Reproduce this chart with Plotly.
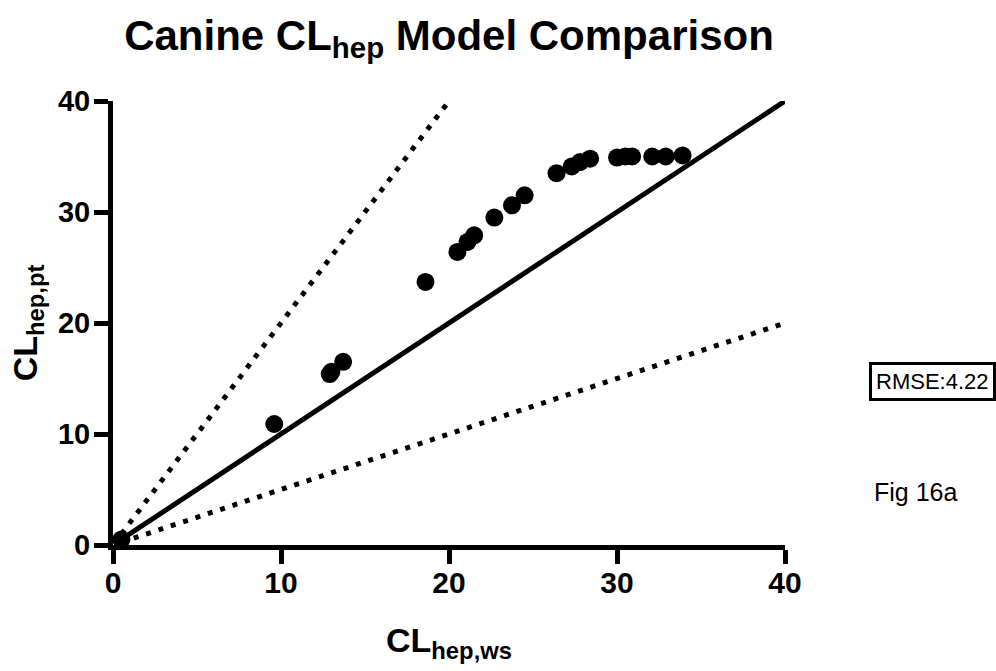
import plotly.graph_objects as go

# Observed points (CL_hep,ws vs CL_hep,pt)
x_ws = [0.5, 9.6, 12.9, 13.0, 13.7, 18.6, 20.5, 21.1, 21.5, 22.7, 23.75, 24.5,
        26.4, 27.3, 27.8, 28.4, 30.0, 30.5, 30.9, 32.1, 32.9, 33.9]
y_pt = [0.5, 10.9, 15.4, 15.6, 16.5, 23.7, 26.4, 27.3, 27.9, 29.5, 30.6, 31.5,
        33.5, 34.1, 34.5, 34.8, 34.9, 35.0, 35.0, 35.0, 35.0, 35.1]

# Reference lines
unity_x = [0.5, 40]
unity_y = [0.5, 40]
twofold_x = [0.5, 20]
twofold_y = [1.0, 40]
half_x = [0.5, 40]
half_y = [0.25, 20]

x_ticks = [0, 10, 20, 30, 40]
y_ticks = [0, 10, 20, 30, 40]

FONT = "Liberation Sans, Arial, sans-serif"

fig = go.Figure()
fig.add_trace(go.Scatter(x=twofold_x, y=twofold_y, mode="lines",
                         line=dict(color="black", width=5, dash="5px,8px"),
                         showlegend=False, hoverinfo="skip"))
fig.add_trace(go.Scatter(x=half_x, y=half_y, mode="lines",
                         line=dict(color="black", width=5, dash="5px,8px"),
                         showlegend=False, hoverinfo="skip"))
fig.add_trace(go.Scatter(x=unity_x, y=unity_y, mode="lines",
                         line=dict(color="black", width=5),
                         showlegend=False, hoverinfo="skip"))
fig.add_trace(go.Scatter(x=x_ws, y=y_pt, mode="markers",
                         marker=dict(color="black", size=18),
                         showlegend=False))

fig.update_layout(
    width=996, height=671,
    margin=dict(l=113, r=211, t=101, b=126),
    paper_bgcolor="white", plot_bgcolor="white",
    font=dict(family=FONT, color="black"),
    title=dict(text="<b>Canine CL<sub>hep</sub> Model Comparison</b>",
               x=449 / 996, xanchor="center", y=0.948, yanchor="middle",
               font=dict(size=42, family=FONT, color="black")),
    xaxis=dict(range=[0, 40], tickvals=x_ticks, ticktext=[str(v) for v in x_ticks],
               showgrid=False, zeroline=False, showline=True, linecolor="black",
               linewidth=5, ticks="outside", ticklen=14, tickwidth=5,
               tickcolor="black", ticklabelstandoff=-7,
               tickfont=dict(size=30, family=FONT, color="black", weight="bold"),
               title=dict(text="<b>CL<sub>hep,ws</sub></b>", standoff=32,
                          font=dict(size=34, family=FONT, color="black"))),
    yaxis=dict(range=[0, 40], tickvals=y_ticks, ticktext=[str(v) for v in y_ticks],
               showgrid=False, zeroline=False, showline=True, linecolor="black",
               linewidth=5, ticks="outside", ticklen=14, tickwidth=5,
               tickcolor="black", ticklabelstandoff=-2,
               tickfont=dict(size=29, family=FONT, color="black", weight="bold"),
               title=dict(text="<b>CL<sub>hep,pt</sub></b>", standoff=12,
                          font=dict(size=34, family=FONT, color="black"))),
    annotations=[
        dict(text="RMSE:4.22", xref="paper", yref="paper",
             x=1 + (932 - 785) / 672, y=(545 - 381) / 444,
             xanchor="center", yanchor="middle", showarrow=False,
             font=dict(size=22, family=FONT, color="black"),
             bordercolor="black", borderwidth=3, borderpad=4, bgcolor="white"),
        dict(text="Fig 16a", xref="paper", yref="paper",
             x=1 + (915 - 785) / 672, y=(545 - 492) / 444,
             xanchor="center", yanchor="middle", showarrow=False,
             font=dict(size=25, family=FONT, color="black")),
    ],
)

fig.write_html("out.html")
